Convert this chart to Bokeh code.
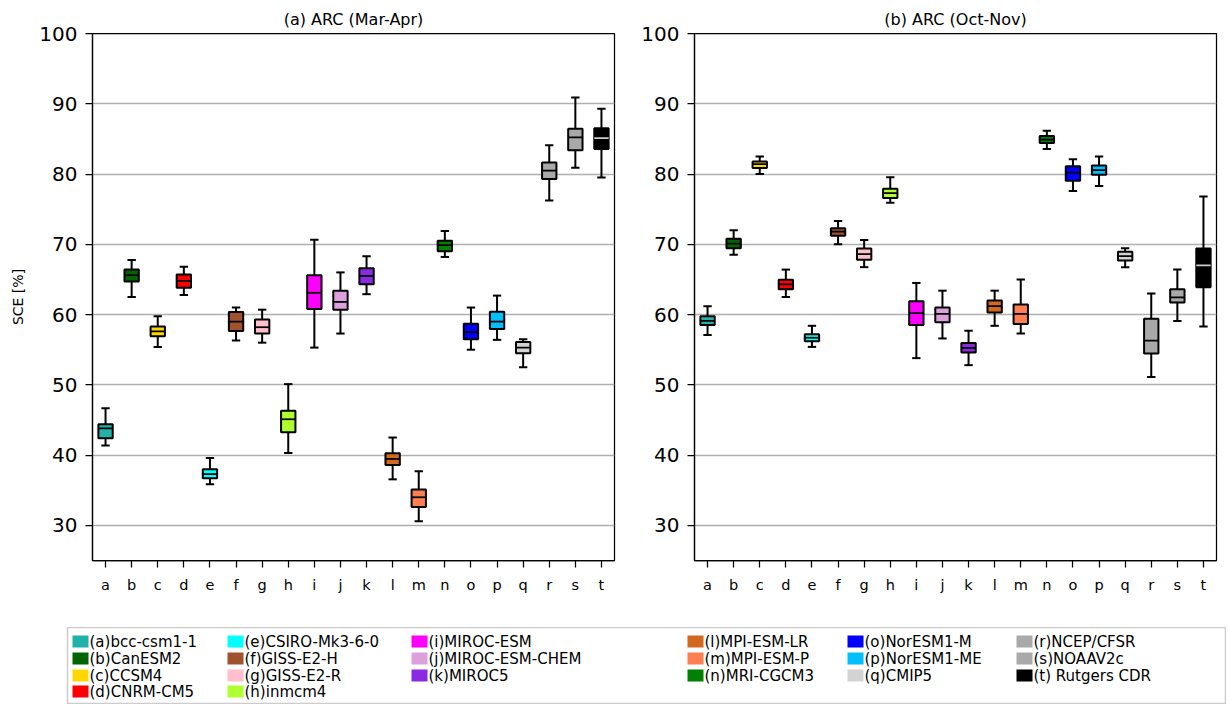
from bokeh.plotting import figure
from bokeh.layouts import column, row
from bokeh.models import ColumnDataSource, Range1d, FixedTicker
from bokeh.transform import dodge
from bokeh.embed import file_html
from bokeh.resources import INLINE

letters = list("abcdefghijklmnopqrst")
model_names = ["(a)bcc-csm1-1", "(b)CanESM2", "(c)CCSM4", "(d)CNRM-CM5",
               "(e)CSIRO-Mk3-6-0", "(f)GISS-E2-H", "(g)GISS-E2-R", "(h)inmcm4",
               "(i)MIROC-ESM", "(j)MIROC-ESM-CHEM", "(k)MIROC5",
               "(l)MPI-ESM-LR", "(m)MPI-ESM-P", "(n)MRI-CGCM3",
               "(o)NorESM1-M", "(p)NorESM1-ME", "(q)CMIP5",
               "(r)NCEP/CFSR", "(s)NOAAV2c", "(t) Rutgers CDR"]
colors = ["#20B2AA", "#006400", "#FFD700", "#FF0000", "#00FFFF", "#A0522D",
          "#FFC0CB", "#ADFF2F", "#FF00FF", "#DDA0DD", "#8A2BE2", "#D2691E",
          "#FF7F50", "#008000", "#0000FF", "#00BFFF", "#D3D3D3", "#A9A9A9",
          "#A9A9A9", "#000000"]
median_colors = ["black"] * 19 + ["#cccccc"]

# (a) ARC (Mar-Apr): whisker low, Q1, median, Q3, whisker high
mar_lo  = [41.35, 62.5, 55.4, 62.8, 35.85, 56.3, 56.0, 40.3, 55.3, 57.3, 62.9, 36.55, 30.6, 68.2, 55.0, 56.4, 52.5, 76.25, 80.9, 79.5]
mar_q1  = [42.4, 64.7, 56.9, 63.8, 36.7, 57.65, 57.3, 43.25, 60.8, 60.7, 64.3, 38.6, 32.6, 69.0, 56.5, 57.95, 54.5, 79.3, 83.4, 83.55]
mar_med = [43.8, 65.6, 57.6, 64.8, 37.3, 59.0, 58.2, 45.1, 63.1, 61.8, 65.5, 39.45, 34.0, 69.9, 57.5, 59.0, 55.3, 80.5, 85.2, 85.1]
mar_q3  = [44.4, 66.4, 58.3, 65.7, 38.0, 60.35, 59.3, 46.3, 65.6, 63.4, 66.6, 40.25, 35.1, 70.5, 58.7, 60.4, 56.1, 81.65, 86.45, 86.5]
mar_hi  = [46.65, 67.75, 59.75, 66.8, 39.6, 61.0, 60.7, 50.1, 70.65, 66.0, 68.3, 42.5, 37.7, 71.9, 61.0, 62.7, 56.5, 84.1, 90.9, 89.3]

# (b) ARC (Oct-Nov)
oct_lo  = [57.1, 68.5, 80.0, 62.5, 55.4, 70.0, 66.75, 75.9, 53.8, 56.6, 52.8, 58.4, 57.3, 83.55, 77.6, 78.3, 66.75, 51.1, 59.1, 58.3]
oct_q1  = [58.5, 69.45, 80.85, 63.6, 56.2, 71.2, 67.8, 76.6, 58.5, 58.9, 54.6, 60.3, 58.65, 84.4, 79.05, 79.9, 67.7, 54.45, 61.7, 63.9]
oct_med = [59.1, 70.1, 81.4, 64.3, 56.7, 71.8, 68.6, 77.3, 60.2, 60.1, 55.25, 61.2, 60.1, 84.9, 80.2, 80.55, 68.3, 56.3, 62.45, 67.0]
oct_q3  = [59.75, 70.8, 81.8, 64.95, 57.2, 72.3, 69.4, 77.9, 61.9, 61.0, 55.95, 62.0, 61.45, 85.4, 81.1, 81.2, 68.95, 59.4, 63.6, 69.4]
oct_hi  = [61.2, 72.0, 82.5, 66.4, 58.4, 73.3, 70.6, 79.55, 64.5, 63.4, 57.7, 63.4, 65.0, 86.15, 82.1, 82.5, 69.45, 63.0, 66.4, 76.8]

y_ticks = [30, 40, 50, 60, 70, 80, 90, 100]
FONT = "DejaVu Sans"


def make_panel(title, lo, q1, med, q3, hi, width, border_left, border_right, ylabel=None):
    p = figure(x_range=letters, y_range=Range1d(25, 100), width=width, height=627,
               min_border_left=border_left, min_border_right=border_right,
               min_border_top=33, min_border_bottom=67,
               output_backend="svg", toolbar_location=None, title=title)
    p.title.text_font = FONT
    p.title.text_font_size = "16px"
    p.title.text_font_style = "normal"
    p.title.text_color = "black"
    p.title.align = "center"
    p.title.standoff = 9
    p.outline_line_color = "black"
    p.outline_line_width = 1.25
    p.outline_line_alpha = 1.0

    src = ColumnDataSource(dict(x=letters, lo=lo, q1=q1, med=med, q3=q3, hi=hi,
                                color=colors, medc=median_colors))
    kw = dict(line_color="black", line_width=2)
    p.segment(x0="x", y0="lo", x1="x", y1="q1", source=src, **kw)
    p.segment(x0="x", y0="q3", x1="x", y1="hi", source=src, **kw)
    p.segment(x0=dodge("x", -0.16, range=p.x_range), y0="hi",
              x1=dodge("x", 0.16, range=p.x_range), y1="hi", source=src, **kw)
    p.segment(x0=dodge("x", -0.16, range=p.x_range), y0="lo",
              x1=dodge("x", 0.16, range=p.x_range), y1="lo", source=src, **kw)
    p.vbar(x="x", top="q3", bottom="q1", width=0.55, fill_color="color",
           line_color="black", line_width=2, source=src)
    p.segment(x0=dodge("x", -0.275, range=p.x_range), y0="med",
              x1=dodge("x", 0.275, range=p.x_range), y1="med",
              line_color="medc", line_width=1.75, source=src)

    p.xgrid.grid_line_color = None
    p.ygrid.ticker = FixedTicker(ticks=y_ticks)
    p.ygrid.grid_line_color = "#b0b0b0"
    p.ygrid.grid_line_width = 1.5
    p.yaxis.ticker = FixedTicker(ticks=y_ticks)

    for ax in (p.xaxis[0], p.yaxis[0]):
        ax.axis_line_color = "black"
        ax.axis_line_width = 1.25
        ax.major_tick_line_color = "black"
        ax.major_tick_line_width = 1.25
        ax.major_tick_out = 7
        ax.major_tick_in = 0
        ax.minor_tick_line_color = None
        ax.major_label_text_font = FONT
        ax.major_label_text_color = "black"
        ax.major_label_standoff = 8
    p.xaxis.major_label_text_font_size = "14.5px"
    p.xaxis.major_label_standoff = 9
    p.yaxis.major_label_text_font_size = "20px"
    if ylabel:
        p.yaxis.axis_label = ylabel
        p.yaxis.axis_label_text_font = FONT
        p.yaxis.axis_label_text_font_size = "14px"
        p.yaxis.axis_label_text_font_style = "normal"
        p.yaxis.axis_label_text_color = "black"
        p.yaxis.axis_label_standoff = 10
    return p


p1 = make_panel("(a) ARC (Mar-Apr)", mar_lo, mar_q1, mar_med, mar_q3, mar_hi,
                width=634, border_left=92, border_right=20, ylabel="SCE [%]")
p2 = make_panel("(b) ARC (Oct-Nov)", oct_lo, oct_q1, oct_med, oct_q3, oct_hi,
                width=592, border_left=60, border_right=10)

# Legend panel (6 columns: 4,4,3,3,3,3 entries)
col_sizes = [4, 4, 3, 3, 3, 3]
col_x = [5, 160, 344, 620, 780, 949]
row_y = [14, 31, 48, 64]
leg_h = 77
leg_w = 1159
sx, sy, tx = [], [], []
for c, n in enumerate(col_sizes):
    for r in range(n):
        sx.append(col_x[c] + 8)
        sy.append(leg_h - row_y[r])
        tx.append(col_x[c] + 17)

leg = figure(width=1226, height=leg_h, x_range=Range1d(0, leg_w), y_range=Range1d(0, leg_h),
             min_border_left=67, min_border_right=0, min_border_top=0, min_border_bottom=0,
             output_backend="svg", toolbar_location=None)
leg.axis.visible = False
leg.grid.visible = False
leg.outline_line_color = "#cccccc"
leg.outline_line_width = 1.5
lsrc = ColumnDataSource(dict(sx=sx, sy=sy, tx=tx, color=colors, label=model_names))
leg.rect(x="sx", y="sy", width=16, height=12, fill_color="color", line_color=None, source=lsrc)
leg.text(x="tx", y="sy", text="label", text_font={"value": FONT},
         text_font_size={"value": "15px"}, text_baseline="middle", text_align="left",
         text_color="black", source=lsrc)

layout = column(row(p1, p2), leg)
open("out.html", "w").write(file_html(layout, INLINE))
